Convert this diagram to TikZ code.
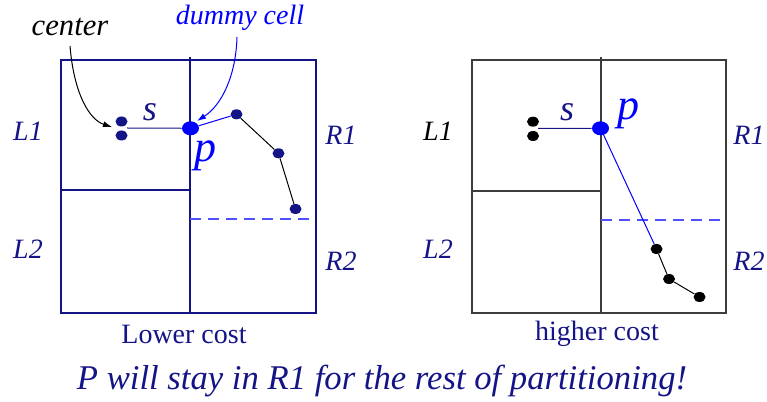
\documentclass[tikz,border=0pt]{standalone}
\usepackage{fontspec}
\setmainfont{Liberation Serif}
\usetikzlibrary{shapes.geometric,arrows.meta}
\definecolor{navy}{RGB}{20,20,135}
\definecolor{bblue}{RGB}{0,0,255}
\definecolor{dblue}{RGB}{80,80,255}
\definecolor{dgray}{RGB}{60,60,60}
\begin{document}
\begin{tikzpicture}[x=0.75pt,y=-0.75pt,
  dotn/.style={ellipse,fill=navy,inner sep=0pt,minimum width=9pt,minimum height=7.5pt},
  dotk/.style={ellipse,fill=black,inner sep=0pt,minimum width=9pt,minimum height=7.5pt},
  pdot/.style={ellipse,fill=bblue,inner sep=0pt,minimum width=12.75pt,minimum height=10.5pt},
  lab/.style={font=\fontsize{21}{21}\selectfont\itshape,inner sep=0pt},
  captext/.style={font=\fontsize{21}{21}\selectfont,text=navy,inner sep=0pt},
  slab/.style={font=\fontsize{27}{27}\selectfont\itshape,text=navy,inner sep=0pt},
  plab/.style={font=\fontsize{33}{33}\selectfont\itshape,text=bblue,inner sep=0pt},
  frame/.style={line width=1pt},
  thin/.style={line width=0.75pt},
  dashln/.style={dblue,dash pattern=on 8.25pt off 5.25pt,line width=1pt},
  arr/.style={thin,-{Latex[length=6.75pt,width=4.5pt]}}]
\useasboundingbox (0,0) rectangle (767,402);
% ---------- left panel ----------
\draw[frame,navy] (61,60) rectangle (316,313);
\draw[frame,navy] (190,57) -- (190,313);
\draw[frame,navy] (61,190) -- (191,190);
\draw[dashln] (190,219) -- (313,219);
\node[dotn] (a1) at (121.5,121.5) {};
\node[dotn] (a2) at (121.5,135.5) {};
\coordinate (am) at (127,128);
\node[pdot] (ap) at (190.5,128.3) {};
\node[dotn] (ad1) at (236.5,114.3) {};
\node[dotn] (ad2) at (278.5,153.3) {};
\node[dotn] (ad3) at (295.5,209) {};
\draw[thin,navy] (am) -- (ap);
\draw[thin,bblue] (ap) -- (ad1);
\draw[thin,black] (ad1) -- (ad2) -- (ad3);
\node[lab,text=navy] (aL1) at (28,131) {L1};
\node[lab,text=navy] (aL2) at (28,249) {L2};
\node[lab,text=navy] (aR1) at (341,135) {R1};
\node[lab,text=navy] (aR2) at (341,261) {R2};
\node[slab] (as) at (150,112) {s};
\node[plab] (apl) at (205,156) {p};
\node[captext] (alow) at (184,334) {Lower cost};
\node[font=\fontsize{23}{23}\selectfont\itshape,text=black,inner sep=0pt] (center) at (70,27) {center};
\node[lab,text=bblue] (dummy) at (240,18) {dummy cell};
\coordinate (cs) at (70,46);
\coordinate (ds) at (237,37);
\draw[arr,black] (cs) .. controls (74,95) and (90,120) .. (112,127);
\draw[arr,bblue] (ds) .. controls (236,75) and (222,105) .. (197,121);
% ---------- right panel ----------
\draw[frame,dgray] (472,60) rectangle (726,313);
\draw[frame,dgray] (601,57) -- (601,313);
\draw[frame,dgray] (472,191) -- (602,191);
\draw[dashln] (601,220) -- (723,220);
\node[dotk] (b1) at (533,121.7) {};
\node[dotk] (b2) at (533,136) {};
\coordinate (bm) at (538,128.5);
\node[pdot] (bp) at (600.5,128.3) {};
\node[dotk] (bd1) at (656.5,249) {};
\node[dotk] (bd2) at (669,279) {};
\node[dotk] (bd3) at (699.5,297) {};
\draw[thin,navy] (bm) -- (bp);
\draw[thin,bblue] (bp) -- (bd1);
\draw[thin,black] (bd1) -- (bd2) -- (bd3);
\node[lab,text=black] (bL1) at (438,131) {L1};
\node[lab,text=navy] (bL2) at (438,249) {L2};
\node[lab,text=navy] (bR1) at (749,135) {R1};
\node[lab,text=navy] (bR2) at (749,261) {R2};
\node[slab] (bs) at (567,112) {s};
\node[plab] (bpl) at (628,114) {p};
\node[captext] (bhigh) at (597,334) {higher cost};
% ---------- bottom ----------
\node[font=\fontsize{26}{26}\selectfont\itshape,text=navy,inner sep=0pt] (msg) at (382,381) {P will stay in R1 for the rest of partitioning!};
\end{tikzpicture}
\end{document}
